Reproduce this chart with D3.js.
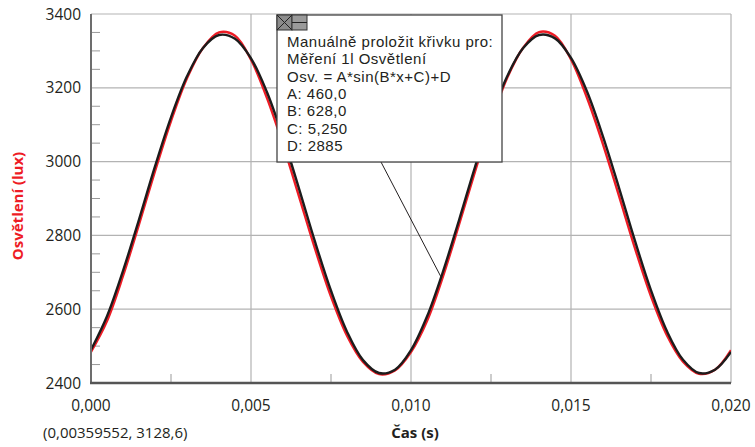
<!DOCTYPE html>
<html>
<head>
<meta charset="utf-8">
<script src="https://cdn.jsdelivr.net/npm/d3@7"></script>
<style>
  body { margin: 0; background: #fff; }
  svg { display: block; font-family: "Open Sans", sans-serif; }
</style>
</head>
<body>
<div class="container"></div>
<script>
// time axis samples (s)
const times = [
  0.0000, 0.0005, 0.0010, 0.0015, 0.0020, 0.0025, 0.0030, 0.0035, 0.0040, 0.0045,
  0.0050, 0.0055, 0.0060, 0.0065, 0.0070, 0.0075, 0.0080, 0.0085, 0.0090, 0.0095,
  0.0100, 0.0105, 0.0110, 0.0115, 0.0120, 0.0125, 0.0130, 0.0135, 0.0140, 0.0145,
  0.0150, 0.0155, 0.0160, 0.0165, 0.0170, 0.0175, 0.0180, 0.0185, 0.0190, 0.0195,
  0.0200
];
// measured illuminance (red)
const measured = [
  2484, 2568, 2690, 2830, 2974, 3110, 3226, 3308, 3350, 3341,
  3276, 3172, 3046, 2906, 2764, 2634, 2528, 2457, 2424, 2434,
  2484, 2568, 2689, 2829, 2973, 3109, 3226, 3308, 3351, 3341,
  3277, 3173, 3047, 2907, 2765, 2635, 2529, 2458, 2425, 2436,
  2489
];
// manual fit curve (black)
const fitted = [
  2490, 2581, 2704, 2843, 2987, 3120, 3231, 3308, 3343, 3333,
  3280, 3188, 3066, 2927, 2783, 2650, 2539, 2462, 2427, 2436,
  2489, 2580, 2702, 2841, 2985, 3119, 3230, 3307, 3343, 3334,
  3281, 3190, 3068, 2929, 2785, 2651, 2540, 2463, 2427, 2436,
  2484
];

const xTicks = [0, 0.005, 0.010, 0.015, 0.020];
const xMinor = [0.0025, 0.0075, 0.0125, 0.0175];
const yTicks = [2400, 2600, 2800, 3000, 3200, 3400];
const yMinor = d3.range(2450, 3400, 50).filter(v => v % 200 !== 0);

const boxLines = [
  "Manuálně proložit křivku pro:",
  "Měření 1l Osvětlení",
  "Osv. = A*sin(B*x+C)+D",
  "A: 460,0",
  "B: 628,0",
  "C: 5,250",
  "D: 2885"
];
const pointer = { x: 0.01094, y: 2687 };
const cursorText = "(0,00359552, 3128,6)";

const WIDTH = 755, HEIGHT = 447;
const L = 91, R = 731, T = 14, B = 383;

const fmt = v => d3.format(".3f")(v).replace(".", ",");

const svg = d3.select('.container').append('svg')
  .attr('width', WIDTH).attr('height', HEIGHT);

const x = d3.scaleLinear().domain([0, 0.02]).range([L, R]);
const y = d3.scaleLinear().domain([2400, 3400]).range([B, T]);

// grid
svg.append('g').selectAll('line').data(xTicks.slice(1)).join('line')
  .attr('x1', d => x(d)).attr('x2', d => x(d)).attr('y1', T).attr('y2', B)
  .attr('stroke', '#b3b3b3').attr('stroke-width', 1.2);
svg.append('g').selectAll('line').data(yTicks.slice(1)).join('line')
  .attr('x1', L).attr('x2', R).attr('y1', d => y(d)).attr('y2', d => y(d))
  .attr('stroke', '#b3b3b3').attr('stroke-width', 1.2);

// minor ticks
svg.append('g').selectAll('line').data(yMinor).join('line')
  .attr('x1', L).attr('x2', L + 9).attr('y1', d => y(d)).attr('y2', d => y(d))
  .attr('stroke', '#999').attr('stroke-width', 1);
svg.append('g').selectAll('line').data(xMinor).join('line')
  .attr('x1', d => x(d)).attr('x2', d => x(d)).attr('y1', B).attr('y2', B - 9)
  .attr('stroke', '#999').attr('stroke-width', 1);

// curves
svg.append('clipPath').attr('id', 'plot')
  .append('rect').attr('x', L).attr('y', T).attr('width', R - L).attr('height', B - T);

const line = d3.line().curve(d3.curveCatmullRom);
const curves = svg.append('g').attr('clip-path', 'url(#plot)');
curves.append('path')
  .attr('d', line(times.map((t, i) => [x(t), y(measured[i])])))
  .attr('fill', 'none').attr('stroke', '#ee1c25').attr('stroke-width', 2.4);
curves.append('path')
  .attr('d', line(times.map((t, i) => [x(t), y(fitted[i])])))
  .attr('fill', 'none').attr('stroke', '#1c1c1c').attr('stroke-width', 2.4);

// axes lines
svg.append('line').attr('x1', L).attr('x2', L).attr('y1', T).attr('y2', B + 1)
  .attr('stroke', '#6d6d6d').attr('stroke-width', 2);
svg.append('line').attr('x1', L - 1).attr('x2', R).attr('y1', B).attr('y2', B)
  .attr('stroke', '#555').attr('stroke-width', 2.5);

// tick labels
svg.append('g').selectAll('text').data(yTicks).join('text')
  .attr('x', 81).attr('y', d => y(d) + 5.5)
  .attr('text-anchor', 'end').attr('font-size', 15.5).attr('fill', '#231f20')
  .text(d => d);
svg.append('g').selectAll('text').data(xTicks).join('text')
  .attr('x', d => x(d)).attr('y', 411)
  .attr('text-anchor', 'middle').attr('font-size', 15.5).attr('fill', '#231f20')
  .text(fmt);

// axis titles
svg.append('text')
  .attr('transform', 'translate(23,206) rotate(-90)')
  .attr('text-anchor', 'middle').attr('font-size', 15).attr('font-weight', 'bold')
  .attr('fill', '#ee1c25').text('Osvětlení (lux)');
svg.append('text')
  .attr('x', 415).attr('y', 438)
  .attr('text-anchor', 'middle').attr('font-size', 15).attr('font-weight', 'bold')
  .attr('fill', '#231f20').text('Čas (s)');
svg.append('text')
  .attr('x', 43).attr('y', 438)
  .attr('font-size', 15).attr('fill', '#231f20').text(cursorText);

// annotation box
const bx = 277, by = 15, bw = 225, bh = 147;
svg.append('line')
  .attr('x1', 381).attr('y1', by + bh)
  .attr('x2', x(pointer.x)).attr('y2', y(pointer.y))
  .attr('stroke', '#231f20').attr('stroke-width', 1);
svg.append('rect')
  .attr('x', bx).attr('y', by).attr('width', bw).attr('height', bh)
  .attr('fill', '#fff').attr('stroke', '#444').attr('stroke-width', 1.3);

const btn = svg.append('g');
btn.append('rect').attr('x', bx).attr('y', by).attr('width', 15).attr('height', 15)
  .attr('fill', '#8c8c8c').attr('stroke', '#333').attr('stroke-width', 1);
btn.append('path').attr('d', `M${bx},${by}L${bx + 15},${by + 15}M${bx + 15},${by}L${bx},${by + 15}`)
  .attr('stroke', '#222').attr('stroke-width', 1);
btn.append('rect').attr('x', bx + 15).attr('y', by).attr('width', 15).attr('height', 15)
  .attr('fill', '#9a9a9a').attr('stroke', '#333').attr('stroke-width', 1);
btn.append('line').attr('x1', bx + 15).attr('x2', bx + 30)
  .attr('y1', by + 7.5).attr('y2', by + 7.5).attr('stroke', '#222').attr('stroke-width', 1);

svg.append('g').selectAll('text').data(boxLines).join('text')
  .attr('x', 287).attr('y', (d, i) => 47 + i * 17.3)
  .attr('font-family', '"Liberation Sans", Arial, sans-serif')
  .attr('font-size', 15).attr('letter-spacing', 0.5).attr('fill', '#231f20')
  .text(d => d);
</script>
</body>
</html>
